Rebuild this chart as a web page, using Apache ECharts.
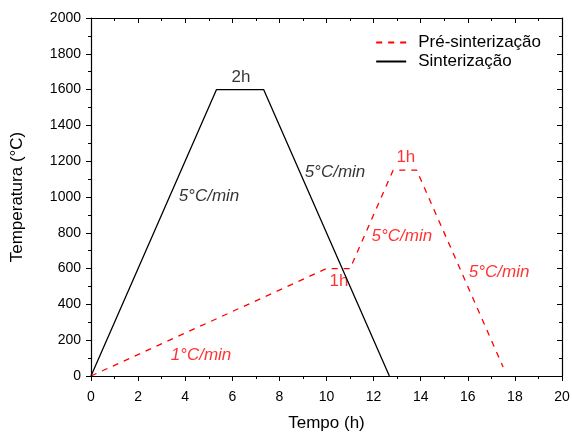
<!DOCTYPE html>
<html><head><meta charset="utf-8">
<script src="https://cdn.jsdelivr.net/npm/echarts@6/dist/echarts.min.js"></script>
<style>html,body{margin:0;padding:0;background:#fff}#c{width:572px;height:432px}</style>
</head><body><div id="c"></div>
<script>
const preTime = [0, 10, 11, 12.83, 13.83, 17.5];
const preTemp = [0, 600, 600, 1150, 1150, 50];
const sinTime = [0, 5.33, 7.33, 12.67];
const sinTemp = [0, 1600, 1600, 0];
const xTicks = [0, 2, 4, 6, 8, 10, 12, 14, 16, 18, 20];
const yTicks = [0, 200, 400, 600, 800, 1000, 1200, 1400, 1600, 1800, 2000];
const notes = [
  {t: '2h', x: 6.37, y: 1670, c: '#000', it: false},
  {t: '5°C/min', x: 5.01, y: 1006, c: '#000', it: true},
  {t: '5°C/min', x: 10.36, y: 1140, c: '#000', it: true},
  {t: '1h', x: 13.37, y: 1223, c: '#ff0000', it: false},
  {t: '5°C/min', x: 13.2, y: 782, c: '#ff0000', it: true},
  {t: '1h', x: 10.53, y: 531, c: '#ff0000', it: false},
  {t: '5°C/min', x: 17.33, y: 581, c: '#ff0000', it: true},
  {t: '1°C/min', x: 4.67, y: 117, c: '#ff0000', it: true}
];
const F = 'Arial, "Liberation Sans", sans-serif';
const chart = echarts.init(document.getElementById('c'));
const axisBase = {
  min: 0, axisLine: {show: true, onZero: false, lineStyle: {color: '#000', width: 1.2}},
  splitLine: {show: false}
};
chart.setOption({
  animation: false,
  grid: {left: 91, right: 10, top: 18, bottom: 56, containLabel: false, outerBoundsMode: 'none'},
  legend: {
    right: 26, top: 29, orient: 'vertical', itemGap: 2, itemWidth: 30, itemHeight: 10,
    itemStyle: {opacity: 0},
    textStyle: {fontFamily: F, fontSize: 17, color: '#000', padding: [0, 0, 0, 7]},
    data: ['Pré-sinterização', 'Sinterização']
  },
  xAxis: [
    Object.assign({}, axisBase, {type: 'value', max: 20, interval: 2, position: 'bottom',
      name: 'Tempo (h)', nameLocation: 'middle', nameGap: 39,
      nameTextStyle: {fontFamily: F, fontSize: 17, color: '#000'},
      axisTick: {show: true, inside: false, length: 5, lineStyle: {color: '#000'}},
      minorTick: {show: true, splitNumber: 2, length: 3, lineStyle: {color: '#000'}},
      axisLabel: {fontFamily: F, fontSize: 14, color: '#000', margin: 14,
        formatter: v => xTicks.includes(v) ? String(v) : ''}}),
    Object.assign({}, axisBase, {type: 'value', max: 20, interval: 2, position: 'top',
      axisTick: {show: true, inside: true, length: 5, lineStyle: {color: '#000'}},
      minorTick: {show: true, splitNumber: 2, length: 3, lineStyle: {color: '#000'}},
      axisLabel: {show: false}})
  ],
  yAxis: [
    Object.assign({}, axisBase, {type: 'value', max: 2000, interval: 200, position: 'left',
      name: 'Temperatura (°C)', nameLocation: 'middle', nameGap: 65,
      nameTextStyle: {fontFamily: F, fontSize: 17, color: '#000'},
      axisTick: {show: true, inside: false, length: 5, lineStyle: {color: '#000'}},
      minorTick: {show: true, splitNumber: 2, length: 3, lineStyle: {color: '#000'}},
      axisLabel: {fontFamily: F, fontSize: 14, color: '#000', margin: 10,
        formatter: v => yTicks.includes(v) ? String(v) : ''}}),
    Object.assign({}, axisBase, {type: 'value', max: 2000, interval: 200, position: 'right',
      axisTick: {show: true, inside: true, length: 5, lineStyle: {color: '#000'}},
      minorTick: {show: true, splitNumber: 2, length: 3, lineStyle: {color: '#000'}},
      axisLabel: {show: false}})
  ],
  series: [
    {name: 'Pré-sinterização', type: 'line', showSymbol: false, symbol: 'none',
      itemStyle: {color: '#ff0000'},
      lineStyle: {color: '#ff0000', width: 1.3, type: [6, 6]},
      data: preTime.map((t, i) => [t, preTemp[i]])},
    {name: 'Sinterização', type: 'line', showSymbol: false, symbol: 'none',
      itemStyle: {color: '#000'},
      lineStyle: {color: '#000', width: 1.3},
      data: sinTime.map((t, i) => [t, sinTemp[i]])},
    {name: 'notes', type: 'scatter', symbolSize: 0, silent: true,
      data: notes.map(n => ({value: [n.x, n.y], label: {show: true, position: 'inside',
        formatter: n.t, color: n.c, fontStyle: n.it ? 'italic' : 'normal',
        fontFamily: F, fontSize: 17}}))}
  ]
});
</script></body></html>
